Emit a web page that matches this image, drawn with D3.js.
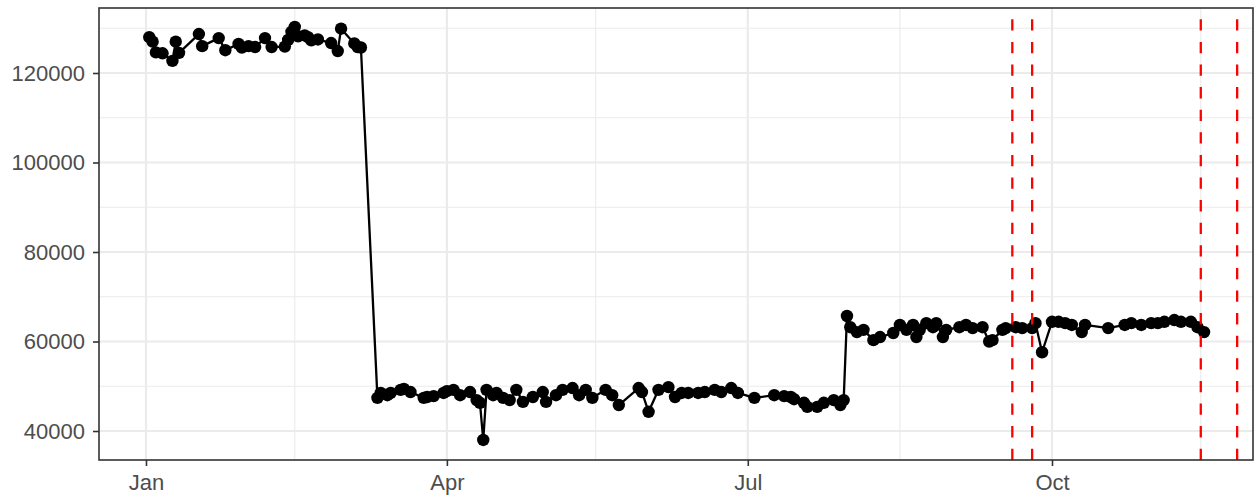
<!DOCTYPE html>
<html>
<head>
<meta charset="utf-8">
<script src="https://cdn.jsdelivr.net/npm/d3@7"></script>
<style>
  html, body { margin: 0; padding: 0; background: #ffffff; }
  svg { display: block; }
  text { font-family: "Liberation Sans", Arial, sans-serif; }
</style>
</head>
<body>
<div id="chart"></div>
<script>
// ---- data ----
const dates = [
  "2020-01-02","2020-01-03","2020-01-04","2020-01-06","2020-01-09","2020-01-10","2020-01-11",
  "2020-01-17","2020-01-18","2020-01-23","2020-01-25","2020-01-29","2020-01-30","2020-02-01",
  "2020-02-03","2020-02-06","2020-02-08","2020-02-12","2020-02-13","2020-02-14","2020-02-15",
  "2020-02-16","2020-02-18","2020-02-19","2020-02-20","2020-02-22","2020-02-26","2020-02-28",
  "2020-02-29","2020-03-04","2020-03-05","2020-03-06",
  "2020-03-11","2020-03-12","2020-03-14","2020-03-15","2020-03-18","2020-03-19","2020-03-21",
  "2020-03-25","2020-03-26","2020-03-28","2020-03-31","2020-04-01","2020-04-03","2020-04-05",
  "2020-04-08","2020-04-10","2020-04-11","2020-04-12","2020-04-13","2020-04-15","2020-04-16",
  "2020-04-18","2020-04-20","2020-04-22","2020-04-24","2020-04-27","2020-04-30","2020-05-01",
  "2020-05-04","2020-05-06","2020-05-09","2020-05-11","2020-05-13","2020-05-15","2020-05-19",
  "2020-05-21","2020-05-23","2020-05-29","2020-05-30","2020-06-01","2020-06-04","2020-06-07",
  "2020-06-09","2020-06-11","2020-06-13","2020-06-16","2020-06-18","2020-06-21","2020-06-23",
  "2020-06-26","2020-06-28","2020-07-03","2020-07-09","2020-07-12","2020-07-14","2020-07-15",
  "2020-07-18","2020-07-19","2020-07-22","2020-07-24","2020-07-27","2020-07-29","2020-07-30",
  "2020-07-31","2020-08-01","2020-08-03","2020-08-05","2020-08-08","2020-08-10","2020-08-14",
  "2020-08-16","2020-08-18","2020-08-20","2020-08-21","2020-08-22","2020-08-24","2020-08-26",
  "2020-08-27","2020-08-29","2020-08-30","2020-09-03","2020-09-05","2020-09-07","2020-09-10",
  "2020-09-12","2020-09-13","2020-09-16","2020-09-17","2020-09-20","2020-09-22","2020-09-25",
  "2020-09-26","2020-09-28","2020-10-01","2020-10-03","2020-10-05","2020-10-07","2020-10-10",
  "2020-10-11","2020-10-18","2020-10-23","2020-10-25","2020-10-28","2020-10-31","2020-11-02",
  "2020-11-04","2020-11-07","2020-11-09","2020-11-12","2020-11-14","2020-11-16"
];
const values = [
  128000,127000,124600,124400,122700,127000,124500,
  128700,126000,127800,125100,126500,125700,126000,
  125800,127800,125800,125900,127400,129200,130300,
  128200,128400,128000,127300,127500,126700,124900,
  129900,126600,125800,125700,
  47400,48500,48000,48500,49200,49400,48700,
  47400,47600,47800,48500,48900,49200,48000,
  48700,46900,46300,38000,49200,48000,48500,
  47400,46900,49200,46500,47600,48700,46500,
  48000,49200,49600,48000,49200,47400,49200,
  48000,45800,49600,48700,44300,49200,49800,
  47600,48500,48500,48500,48700,49200,48700,
  49600,48500,47400,48000,47800,47600,47100,
  46300,45400,45400,46300,46900,45800,46900,
  65700,63200,62100,62600,60300,61000,61900,
  63700,62600,63700,61000,62600,64100,63200,
  64100,61000,62600,63200,63700,63000,63200,
  60000,60300,62600,63000,63200,63000,63000,
  64100,57600,64400,64400,64100,63700,62100,
  63700,63000,63700,64100,63700,64100,64100,
  64400,64800,64400,64400,63200,62100
];
const vlineDates = ["2020-09-19","2020-09-25","2020-11-15","2020-11-26"];
const yTicks = [40000, 60000, 80000, 100000, 120000];
const yMinorTicks = [50000, 70000, 90000, 110000, 130000];
const xTickDates = ["2020-01-01","2020-04-01","2020-07-01","2020-10-01"];
const xTickLabels = ["Jan","Apr","Jul","Oct"];
const xMinorDates = ["2020-02-15","2020-05-16","2020-08-16","2020-11-15"];

// ---- layout ----
const W = 1255, H = 497;
const panel = { left: 99, right: 1253, top: 8, bottom: 460 };
const parse = d3.timeParse("%Y-%m-%d");
const data = dates.map((d, i) => ({ date: parse(d), value: values[i] }));

const x = d3.scaleTime()
  .domain([new Date(2019, 11, 17, 19), new Date(2020, 10, 30, 19)])
  .range([panel.left, panel.right]);
const y = d3.scaleLinear()
  .domain([33520, 134525])
  .range([panel.bottom, panel.top]);

const svg = d3.select("#chart").append("svg")
  .attr("width", W).attr("height", H);

const clipId = "panelclip";
svg.append("clipPath").attr("id", clipId).append("rect")
  .attr("x", panel.left).attr("y", panel.top)
  .attr("width", panel.right - panel.left).attr("height", panel.bottom - panel.top);

const grid = svg.append("g");
// minor grid
grid.selectAll("line.ymin").data(yMinorTicks).join("line")
  .attr("x1", panel.left).attr("x2", panel.right)
  .attr("y1", d => y(d)).attr("y2", d => y(d))
  .attr("stroke", "#EBEBEB").attr("stroke-width", 1.1);
grid.selectAll("line.xmin").data(xMinorDates.map(parse)).join("line")
  .attr("y1", panel.top).attr("y2", panel.bottom)
  .attr("x1", d => x(d)).attr("x2", d => x(d))
  .attr("stroke", "#EBEBEB").attr("stroke-width", 1.1);
// major grid
grid.selectAll("line.ymaj").data(yTicks).join("line")
  .attr("x1", panel.left).attr("x2", panel.right)
  .attr("y1", d => y(d)).attr("y2", d => y(d))
  .attr("stroke", "#EBEBEB").attr("stroke-width", 2.2);
grid.selectAll("line.xmaj").data(xTickDates.map(parse)).join("line")
  .attr("y1", panel.top).attr("y2", panel.bottom)
  .attr("x1", d => x(d)).attr("x2", d => x(d))
  .attr("stroke", "#EBEBEB").attr("stroke-width", 2.2);

const plot = svg.append("g").attr("clip-path", `url(#${clipId})`);

// line
plot.append("path").datum(data)
  .attr("fill", "none").attr("stroke", "#000").attr("stroke-width", 2.3)
  .attr("stroke-linejoin", "round")
  .attr("d", d3.line().x(d => x(d.date)).y(d => y(d.value)));

// points
plot.selectAll("circle").data(data).join("circle")
  .attr("cx", d => x(d.date)).attr("cy", d => y(d.value))
  .attr("r", 6.2).attr("fill", "#000");

// vlines (drawn from bottom to top like ggplot)
plot.selectAll("line.vl").data(vlineDates.map(parse)).join("line")
  .attr("x1", d => x(d)).attr("x2", d => x(d))
  .attr("y1", panel.bottom).attr("y2", panel.top)
  .attr("stroke", "#FF0000").attr("stroke-width", 2.3)
  .attr("stroke-dasharray", "11.3,11.3");

// panel border
svg.append("rect")
  .attr("x", panel.left).attr("y", panel.top)
  .attr("width", panel.right - panel.left).attr("height", panel.bottom - panel.top)
  .attr("fill", "none").attr("stroke", "#333333").attr("stroke-width", 1.6);

const fontSize = "22px";
// y axis
const yAxis = d3.axisLeft(y).tickValues(yTicks).tickSize(6).tickPadding(8)
  .tickFormat(d3.format("d"));
const gy = svg.append("g").attr("transform", `translate(${panel.left},0)`).call(yAxis);
gy.select(".domain").remove();
gy.selectAll(".tick line").attr("stroke", "#333333").attr("stroke-width", 1.6);
gy.selectAll(".tick text").attr("fill", "#4D4D4D").style("font-size", fontSize)
  .style("font-family", "'Liberation Sans', Arial, sans-serif");

// x axis
const xAxis = d3.axisBottom(x).tickValues(xTickDates.map(parse)).tickSize(6).tickPadding(8)
  .tickFormat((d, i) => xTickLabels[i]);
const gx = svg.append("g").attr("transform", `translate(0,${panel.bottom})`).call(xAxis);
gx.select(".domain").remove();
gx.selectAll(".tick line").attr("stroke", "#333333").attr("stroke-width", 1.6);
gx.selectAll(".tick text").attr("fill", "#4D4D4D").style("font-size", fontSize)
  .style("font-family", "'Liberation Sans', Arial, sans-serif");
</script>
</body>
</html>
